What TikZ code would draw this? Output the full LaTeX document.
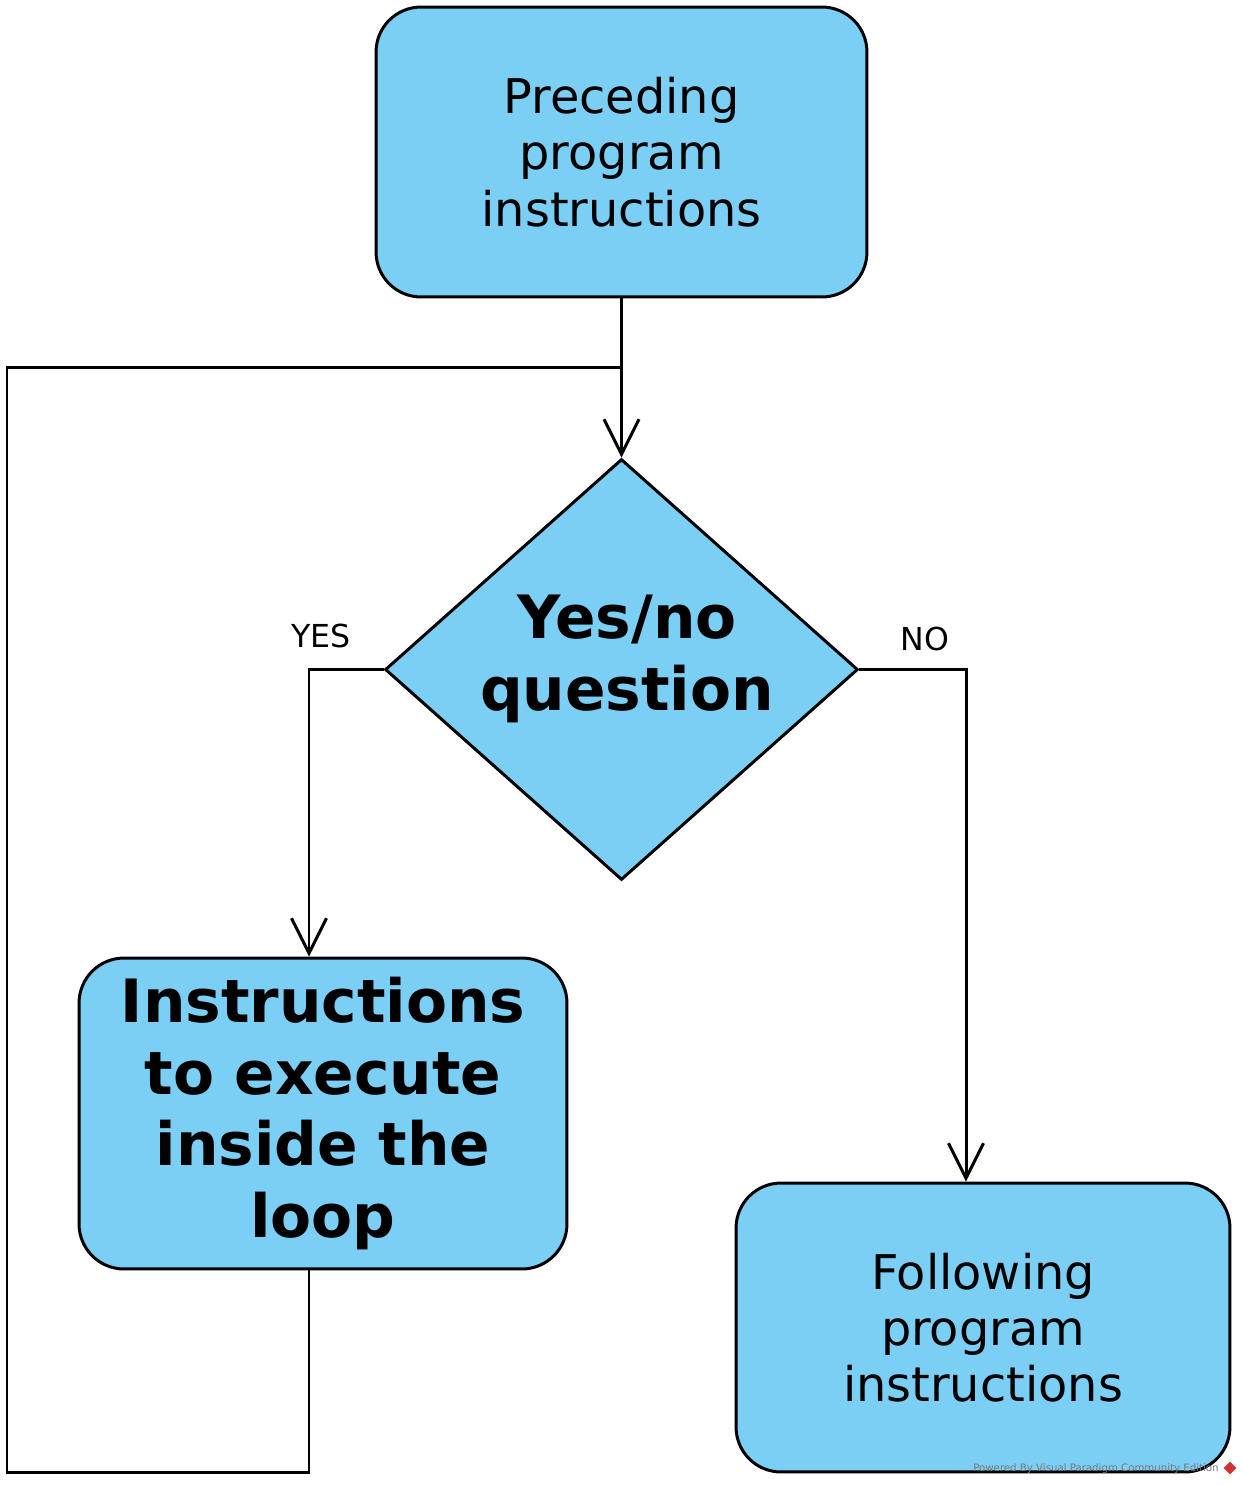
\documentclass[tikz,border=0pt]{standalone}
\usepackage{fontspec}
\setmainfont{DejaVu Sans}
\usetikzlibrary{arrows.meta,shapes.geometric}
\definecolor{boxblue}{RGB}{123,206,244}
\definecolor{wmgray}{RGB}{120,120,120}
\definecolor{wmred}{RGB}{210,50,50}
\tikzset{
  box/.style={draw=black, line width=1.7pt, fill=boxblue, rounded corners=0.9cm, align=center, inner sep=0pt},
  decision/.style={draw=black, line width=1.7pt, fill=boxblue, diamond, inner sep=0pt},
  normaltext/.style={font=\fontsize{27.2}{32}\selectfont},
  boldtext/.style={font=\fontsize{34}{40.8}\selectfont\bfseries},
  lbl/.style={font=\fontsize{18}{21}\selectfont},
  conn/.style={line width=1.7pt},
  arr/.style={conn, -{Straight Barb[length=0.7cm,width=0.7cm]}},
}
\begin{document}
\begin{tikzpicture}[x=0.02cm,y=0.02cm]
\useasboundingbox (0,0) rectangle (1242,-1485);
% nodes
\node[box, normaltext, minimum width=9.82cm, minimum height=5.8cm] (top) at (621.5,-152) {Preceding\\program\\instructions};
\node[decision, minimum width=9.46cm, minimum height=8.42cm] (dia) at (621.5,-669.5) {};
\node[boldtext, align=center, inner sep=0pt] (diatext) at (627,-659) {Yes/no\\question};
\node[box, boldtext, minimum width=9.76cm, minimum height=6.22cm] (left) at (323,-1113.5) {Instructions\\to execute\\inside the\\loop};
\node[box, normaltext, minimum width=9.88cm, minimum height=5.78cm] (right) at (983,-1327.5) {Following\\program\\instructions};
% coordinates
\coordinate (jt) at (621.5,-367);
\coordinate (c1) at (7,-367);
\coordinate (c2) at (7,-1472);
\coordinate (c3) at (309,-1472);
\coordinate (nx) at (966,-669.5);
% connectors
\draw[arr] (top.south) -- (dia.north);
\draw[conn] (left.south -| c3) -- (c3) -- (c2) -- (c1) -- (jt);
\draw[arr] (dia.west) -| (left.north -| c3);
\draw[arr] (dia.east) -- (nx) -- (right.north -| nx);
% labels
\node[lbl] (yes) at (321,-636) {YES};
\node[lbl] (no) at (925,-639) {NO};
% watermark
\node[text=wmgray, font=\fontsize{5.8}{7}\selectfont, inner sep=0pt] (wm) at (1096,-1469) {Powered By Visual Paradigm Community Edition};
\node[diamond, fill=wmred, minimum width=0.26cm, minimum height=0.26cm, inner sep=0pt] (logo) at (1230,-1468) {};
\end{tikzpicture}
\end{document}
